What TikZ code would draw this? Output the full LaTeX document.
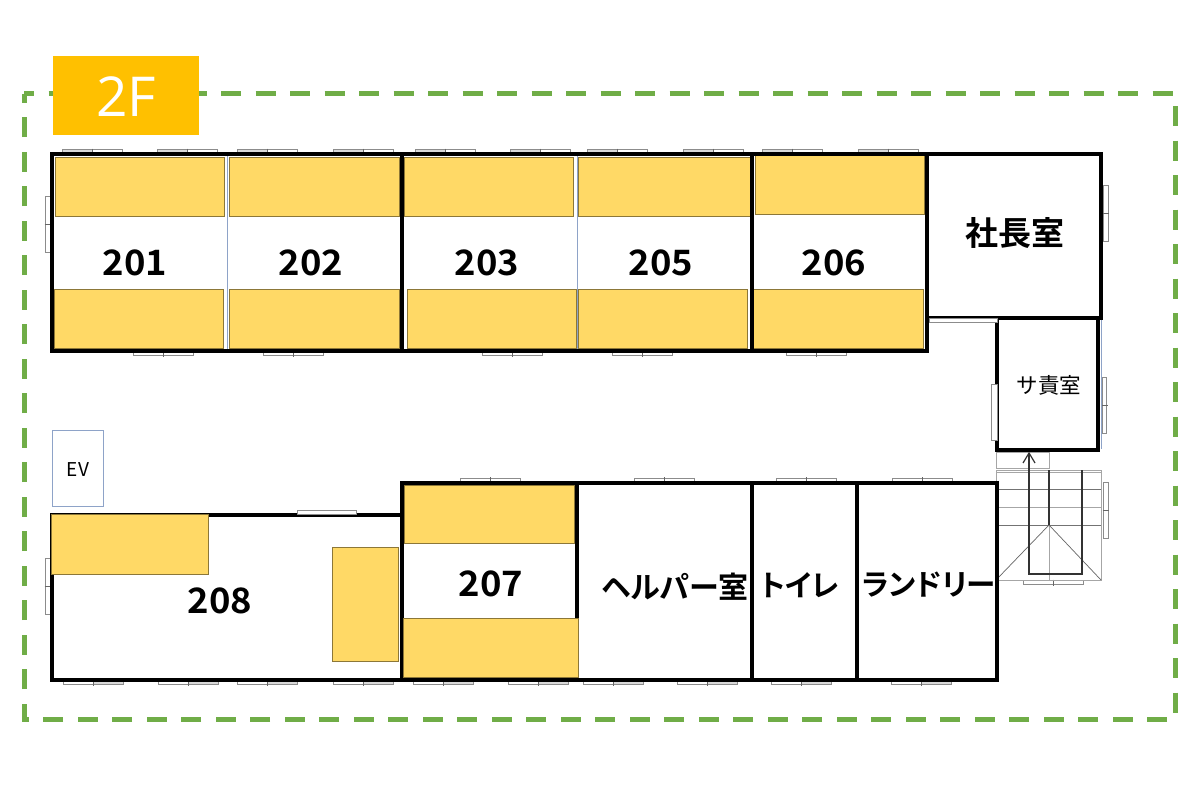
\documentclass[tikz,border=0pt]{standalone}
\usepackage{fontspec}
\setmainfont{Noto Sans CJK JP}[BoldFont={Noto Sans CJK JP Bold}]
\newfontfamily\numfont{Noto Sans CJK JP Bold}[FakeStretch=1.04]
\newfontfamily\kanafont{Noto Sans CJK JP Bold}[RawFeature=+palt]
\newfontfamily\floorfont{Open Sans}
\definecolor{amberbox}{HTML}{FFC000}
\definecolor{bedfill}{HTML}{FFD966}
\definecolor{greendash}{HTML}{70AD47}
\definecolor{thinblue}{HTML}{8EA3C8}
\tikzset{
  wall/.style={draw=black,line width=3.3pt,line cap=rect},
  thinwall/.style={draw=thinblue,line width=0.8pt},
  bed/.style={draw=black!45!bedfill,fill=bedfill,line width=0.7pt},
  pane/.style={draw=black!45,fill=white,line width=0.8pt},
  shaded/.style={draw=black!45,fill=black!15,line width=0.8pt},
  stairline/.style={draw=black!35,line width=0.9pt},
  stairmid/.style={draw=black!55,line width=0.9pt},
  stairdark/.style={draw=black!80,line width=1.2pt},
  roomlabel/.style={font=\numfont\fontsize{35}{35}\selectfont,text=black,inner sep=0pt},
  jplabel/.style={font=\kanafont\fontsize{29.5}{29.5}\selectfont,text=black,inner sep=0pt},
  smalllabel/.style={font=\fontsize{21.5}{21.5}\selectfont,text=black,inner sep=0pt},
}
\newcommand{\hwin}[2]{\draw[pane] (#1,#2) rectangle ++(30,4); \draw[pane] (#1+30,#2) rectangle ++(30,4); \draw[draw=black!60,line width=0.6pt] (#1+30,#2-1) -- (#1+30,#2+5);}
\newcommand{\hwinL}[2]{\draw[shaded] (#1,#2) rectangle ++(30,4); \draw[pane] (#1+30,#2) rectangle ++(30,4); \draw[draw=black!60,line width=0.6pt] (#1+30,#2-1) -- (#1+30,#2+5);}
\newcommand{\hwinR}[2]{\draw[pane] (#1,#2) rectangle ++(30,4); \draw[shaded] (#1+30,#2) rectangle ++(30,4); \draw[draw=black!60,line width=0.6pt] (#1+30,#2-1) -- (#1+30,#2+5);}
\newcommand{\vwin}[2]{\draw[pane] (#1,#2) rectangle ++(4.5,28); \draw[pane] (#1,#2+28) rectangle ++(4.5,28); \draw[draw=black!60,line width=0.6pt] (#1-1,#2+28) -- (#1+5.5,#2+28);}
\begin{document}
\begin{tikzpicture}[x=1pt,y=-1pt]
\useasboundingbox (0,0) rectangle (1200,800);
\fill[white] (0,0) rectangle (1200,800);
% outer dashed boundary
\draw[draw=greendash,line width=5pt,dash pattern=on 20pt off 14.5pt,dash phase=10pt] (24,94) -- (1175,94) -- (1175,719) -- (24,719) -- cycle;
\fill[amberbox] (52.5,56) rectangle (199,134.5);
\node[text=white,inner sep=0pt,font=\floorfont\fontsize{55}{55}\selectfont] (floor) at (126,97) {2F};
% windows
\foreach \x in {62,157,237,333,415,510,587,683,762,858} {\hwinL{\x}{149.5}}
\foreach \x in {133,263,482,612,786} {\hwin{\x}{351.5}}
\foreach \x in {63,158,237,333,413,508,583,677,771,891} {\hwinR{\x}{680.5}}
\foreach \x in {460,634,776,892} {\hwin{\x}{478}}
\hwin{1023}{580.5}
\vwin{45.5}{196} \vwin{45.5}{558} \vwin{1103.5}{185} \vwin{1102}{377} \vwin{1103.5}{482}
% stairs
\draw[stairline] (996,452) rectangle (1049,468);
\draw[stairline] (996,470) rectangle (1101,580);
\draw[stairline] (996,472) -- (1101,472);
\foreach \y in {489,525} {\draw[stairmid] (996,\y) -- (1101,\y);}
\draw[stairline] (996,507) -- (1101,507);
\draw[stairline] (1049,525) -- (1049,580);
\draw[draw=black!60,line width=0.7pt] (996,580) -- (1049,525) -- (1101,580);
\draw[stairdark] (1049,470) -- (1049,525);
\draw[stairdark] (1082,470) -- (1082,574) -- (1029,574) -- (1029,454);
\draw[stairdark] (1023,463) -- (1029,453) -- (1035,463);
% beds upper row
\draw[bed] (55,157) rectangle (224,216.5);
\draw[bed] (229,157) rectangle (399,216.5);
\draw[bed] (404,157) rectangle (573,216);
\draw[bed] (578,157) rectangle (750,216);
\draw[bed] (755,154) rectangle (924,214);
\draw[bed] (54,289) rectangle (223,348);
\draw[bed] (229,289) rectangle (399,348);
\draw[bed] (407,289) rectangle (576,348);
\draw[bed] (578,289) rectangle (747,348);
\draw[bed] (753,289) rectangle (923,348);
\draw[bed] (332,547) rectangle (398,661);
\draw[bed] (404,485) rectangle (574.5,543);
% thin partitions
\draw[thinwall] (227,156) -- (227,349);
\draw[thinwall] (577,156) -- (577,349);
\draw[thinwall] (1101,320) -- (1101,449);
% walls
\draw[wall] (52,154) rectangle (927,351);
\draw[wall] (402,154) -- (402,351);
\draw[wall] (752,154) -- (752,351);
\draw[wall] (927,154) rectangle (1101,318);
\draw[wall] (997,318) -- (997,450) -- (1098,450) -- (1098,318);
\draw[pane] (929,318.5) rectangle (997,322);
\draw[pane] (991.5,384) rectangle (997,440);
\draw[wall] (52,515) -- (402,515);
\draw[wall] (52,515) -- (52,680) -- (997,680) -- (997,483) -- (402,483) -- (402,680);
\draw[wall] (577,483) -- (577,680);
\draw[wall] (752,483) -- (752,680);
\draw[wall] (857,483) -- (857,680);
\draw[pane] (297,510.5) rectangle (356,514);
\draw[bed] (51.5,514.5) rectangle (208,574);
\draw[bed] (403,618) rectangle (578.5,677);
% EV
\draw[thinwall] (52.5,430.5) rectangle (103.5,506);
% labels
\node[font=\fontsize{19}{19}\selectfont,text=black,inner sep=0pt] (ev) at (78,470) {EV};
\node[roomlabel] (r201) at (135,263) {201};
\node[roomlabel] (r202) at (311,263) {202};
\node[roomlabel] (r203) at (487,263) {203};
\node[roomlabel] (r205) at (661,263) {205};
\node[roomlabel] (r206) at (834,263) {206};
\node[roomlabel] (r207) at (491,584) {207};
\node[roomlabel] (r208) at (220,601) {208};
\node[jplabel,font=\kanafont\fontsize{33}{33}\selectfont] (pres) at (1015,233) {社長室};
\node[smalllabel] (sat) at (1049,385) {サ責室};
\node[jplabel,font=\kanafont\fontsize{30}{30}\selectfont] (help) at (675,587) {ヘルパー室};
\node[jplabel] (toilet) at (800,585) {トイレ};
\node[jplabel] (laundry) at (929,585) {ランドリー};
\end{tikzpicture}
\end{document}
